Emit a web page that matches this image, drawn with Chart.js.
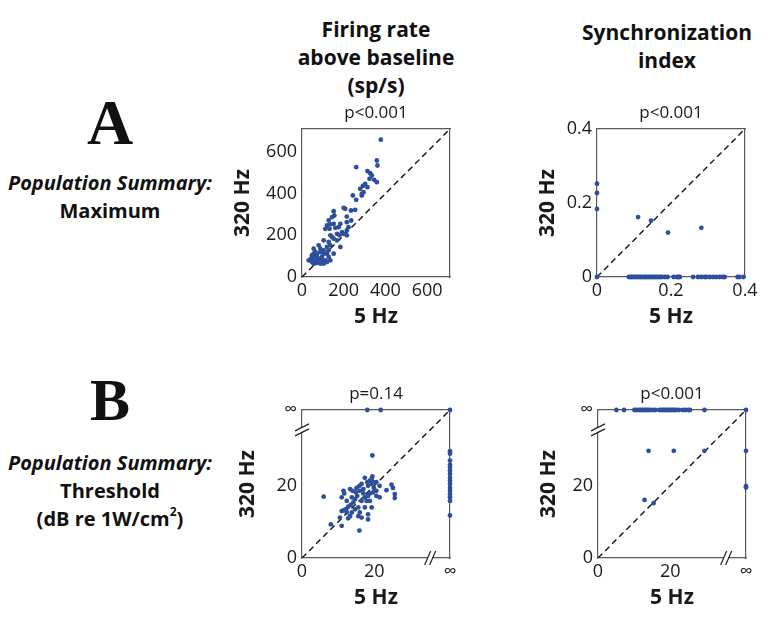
<!DOCTYPE html>
<html>
<head>
<meta charset="utf-8">
<script src="https://cdn.jsdelivr.net/npm/chart.js@4.4.1/dist/chart.umd.min.js"></script>
<style>
html,body{margin:0;padding:0;background:#fff;}
body{width:762px;height:617px;position:relative;overflow:hidden;font-family:"Open Sans",sans-serif;color:#111;}
.t{position:absolute;white-space:nowrap;text-align:center;transform:translateX(-50%);font-weight:700;font-size:21px;line-height:28px;}
.r{position:absolute;white-space:nowrap;text-align:center;transform:translateX(-50%);font-weight:700;font-size:20px;line-height:28px;}
.big{position:absolute;font-family:"Liberation Serif",serif;font-weight:700;transform:translateX(-50%);line-height:1;}
.it{font-style:italic;}
sup{font-size:12px;line-height:0;position:relative;top:-2px;}
canvas{position:absolute;}
</style>
</head>
<body>
<div class="t" style="left:376px;top:15px;">Firing rate<br>above baseline<br>(sp/s)</div>
<div class="t" style="left:667px;top:18px;">Synchronization<br>index</div>
<div class="big" style="left:110px;top:91px;font-size:64px;">A</div>
<div class="r" style="left:110px;top:169px;"><span class="it">Population Summary:</span><br>Maximum</div>
<div class="big" style="left:110px;top:370px;font-size:60px;">B</div>
<div class="r" style="left:110px;top:449px;"><span class="it">Population Summary:</span><br>Threshold<br>(dB re 1W/cm<sup>2</sup>)</div>
<script>
// ---------- data ----------
// A, left: maximum firing rate above baseline (sp/s)
const rateMax5Hz = [378,359,362,260,314,327,335,346,324,359,303,314,292,279,295,244,287,260,287,207,200,255,235,152,155,215,236,215,184,144,128,136,152,120,112,132,160,176,192,168,180,200,215,223,215,136,144,152,168,104,128,184,136,120,128,80,56,64,88,104,72,48,56,72,40,56,80,96,48,69,88,112,128,136,120,32,43,104,56,75,96,152,104,88,64,120,56];
const rateMax320Hz = [659,559,535,527,508,498,487,466,471,455,447,431,437,423,407,391,399,370,391,327,332,322,319,316,295,290,271,263,255,287,271,252,255,247,231,231,236,239,215,207,200,207,223,239,200,200,192,184,176,176,168,144,152,144,128,152,136,120,120,112,112,104,96,96,80,80,88,80,72,67,64,80,96,80,72,80,88,64,64,77,96,112,128,136,96,112,112];
// A, right: maximum synchronization index
const syncMax5Hz = [0,0,0,0,0.111,0.146,0.192,0.282,
  0.086,0.091,0.095,0.100,0.104,0.109,0.113,0.118,0.122,0.127,0.131,0.135,0.140,0.144,0.149,0.153,0.158,0.162,0.167,0.171,0.176,0.184,0.191,0.207,0.216,0.220,0.224,0.260,0.273,0.282,0.291,0.296,0.305,0.314,0.322,0.331,0.340,0.345,0.380,0.385,0.396];
const syncMax320Hz = [0.252,0.227,0.184,0,0.162,0.152,0.120,0.133,
  0,0,0,0,0,0,0,0,0,0,0,0,0,0,0,0,0,0,0,0,0,0,0,0,0,0,0,0,0,0,0,0,0,0,0,0,0,0,0,0,0];
// B, left: firing-rate threshold (dB re 1W/cm2); Infinity = no threshold
const rateThr5Hz = [6.0,8.0,11.0,10.5,11.5,11.7,11.0,13.3,14.0,15.1,15.9,16.5,17.4,18.1,18.8,19.5,19.5,19.3,19.9,20.6,21.5,23.4,24.8,25.2,25.7,25.7,21.5,20.6,19.7,18.8,18.3,17.4,17.0,16.0,15.3,14.7,14.2,13.5,12.8,12.2,11.5,12.4,13.3,12.8,13.8,14.7,15.6,16.0,15.6,16.5,15.9,17.4,18.3,18.3,19.3,16.5,17.9,18.8,13.8,12.4,11.0,19.7,19.3,20.6,18.3,17.0,14.9,
  18.1,21.8,Infinity,
  Infinity,Infinity,Infinity,Infinity,Infinity,Infinity,Infinity,Infinity,Infinity,Infinity,Infinity,Infinity,Infinity,Infinity,Infinity,Infinity];
const rateThr320Hz = [17.0,9.3,8.9,11.2,18.6,17.9,16.8,19.1,18.6,19.4,20.0,20.5,22.2,21.0,21.4,28.4,22.6,20.5,19.4,18.6,20.0,18.8,20.3,19.4,17.7,16.6,16.8,17.2,18.2,17.9,17.2,16.8,17.9,18.6,17.2,16.3,15.4,14.7,14.2,13.5,13.2,12.6,11.6,11.0,12.6,13.5,14.0,12.6,11.6,11.2,7.6,14.0,12.1,10.7,14.0,15.8,15.8,15.8,16.8,15.8,13.0,21.0,21.9,21.0,20.0,19.1,18.2,
  Infinity,Infinity,Infinity,
  29.6,28.9,27.0,25.8,25.2,24.2,23.3,22.2,21.4,20.5,19.4,18.6,17.7,16.8,15.8,11.8];
// B, right: synchronization threshold (dB re 1W/cm2)
const syncThr5Hz = [5.1,7.2,10.1,10.6,11.3,11.7,12.2,12.6,13.1,13.5,14.0,14.5,15.2,15.9,17.0,17.5,18.0,18.4,18.9,19.3,19.8,20.3,20.7,21.2,21.6,22.4,23.5,24.2,25.0,25.5,29.5,Infinity,
  Infinity,Infinity,Infinity,
  14.0,21.0,29.5,12.9,15.4];
const syncThr320Hz = [Infinity,Infinity,Infinity,Infinity,Infinity,Infinity,Infinity,Infinity,Infinity,Infinity,Infinity,Infinity,Infinity,Infinity,Infinity,Infinity,Infinity,Infinity,Infinity,Infinity,Infinity,Infinity,Infinity,Infinity,Infinity,Infinity,Infinity,Infinity,Infinity,Infinity,Infinity,Infinity,
  29.7,19.9,19.5,
  29.7,29.7,29.7,16.1,15.2];

const pValues = ['p<0.001','p<0.001','p=0.14','p<0.001'];
const rateTicks = [0,200,400,600];
const syncTicks = [0,0.2,0.4];
const thrTicks = [0,20,Infinity];
const xAxisLabel = '5 Hz';
const yAxisLabel = '320 Hz';

// ---------- drawing ----------
Chart.defaults.font.family = '"Open Sans", sans-serif';
Chart.defaults.color = '#1a1a1a';
const DOT = '#2d4f9e';
const BOX = '#5a5a5a';
const SIZE = 148;

const breakPlugin = {
  id: 'brk',
  afterDraw(chart, args, o) {
    if (o.at == null) return;
    const ctx = chart.ctx, a = chart.chartArea;
    const yb = chart.scales.y.getPixelForValue(o.at);
    const xb = chart.scales.x.getPixelForValue(o.at);
    ctx.save();
    ctx.fillStyle = '#fff';
    ctx.fillRect(a.left - 2, yb - 2.5, 4, 5);
    ctx.fillRect(xb - 2.5, a.bottom - 2, 5, 4);
    ctx.strokeStyle = '#222';
    ctx.lineWidth = 1.2;
    ctx.beginPath();
    for (const d of [-2.5, 2.5]) {
      ctx.moveTo(a.left - 7, yb + d + 3.5); ctx.lineTo(a.left + 7, yb + d - 3.5);
      ctx.moveTo(xb + d - 3, a.bottom + 7); ctx.lineTo(xb + d + 3, a.bottom - 7);
    }
    ctx.stroke();
    ctx.restore();
  }
};

function panel(p) {
  const cv = document.createElement('canvas');
  cv.width = 80 + SIZE + 16; cv.height = 35 + SIZE + 60;
  cv.style.left = (p.left - 80) + 'px';
  cv.style.top = (p.top - 35) + 'px';
  document.body.appendChild(cv);
  const fix = v => (v === Infinity ? p.max : v);
  const pts = p.xs.map((x, i) => ({x: fix(x), y: fix(p.ys[i])}));
  const tickVals = p.ticks.map(fix);
  const fmt = v => (p.inf && v === p.max ? '\u221E' : p.fmt(v));
  const setTicks = s => { s.ticks = tickVals.map(v => ({value: v})); };
  const gridOff = {drawOnChartArea: false, drawTicks: false};
  const border = {color: BOX, width: 1.2};
  new Chart(cv, {
    type: 'scatter',
    data: {datasets: [
      {data: pts, backgroundColor: DOT, borderWidth: 0, pointRadius: 2.4, clip: false, order: 0},
      {type: 'line', showLine: true, data: [{x: p.min, y: p.min}, {x: p.max, y: p.max}],
       borderColor: '#111', borderWidth: 1.4, borderDash: [6, 4], pointRadius: 0, order: 1}
    ]},
    options: {
      responsive: false, animation: false, devicePixelRatio: 1,
      layout: {padding: {left: 0, right: 16, top: 0, bottom: 0}},
      plugins: {legend: {display: false}, tooltip: {enabled: false}, brk: {at: p.breakAt}},
      scales: {
        x: {type: 'linear', position: 'bottom', min: p.min, max: p.max,
            afterBuildTicks: setTicks, afterFit: s => { s.height = 60; },
            grid: gridOff, border,
            ticks: {autoSkip: false, maxRotation: 0, padding: 3, font: {size: 18}, callback: fmt},
            title: {display: true, text: xAxisLabel, font: {size: 21, weight: 'bold'}, padding: {top: 0, bottom: 7}}},
        y: {type: 'linear', position: 'left', min: p.min, max: p.max,
            afterBuildTicks: setTicks, afterFit: s => { s.width = 80; },
            grid: gridOff, border,
            ticks: {autoSkip: false, padding: 5, font: {size: 18}, callback: fmt},
            title: {display: true, text: yAxisLabel, font: {size: 21, weight: 'bold'}, padding: {top: p.yTitlePad, bottom: 0}}},
        x2: {type: 'linear', position: 'top', min: p.min, max: p.max,
             afterFit: s => { s.height = 35; }, grid: gridOff, border, ticks: {display: false},
             title: {display: true, text: p.pText, font: {size: 17}, padding: {top: 9, bottom: 0}}},
        y2: {type: 'linear', position: 'right', min: p.min, max: p.max,
             afterFit: s => { s.width = 0; }, grid: gridOff, border, ticks: {display: false}}
      }
    },
    plugins: [breakPlugin]
  });
}

panel({left: 302, top: 129, min: 0, max: 710, xs: rateMax5Hz, ys: rateMax320Hz,
       ticks: rateTicks, fmt: v => String(v), pText: pValues[0], yTitlePad: 8});
panel({left: 597, top: 129, min: 0, max: 0.4, xs: syncMax5Hz, ys: syncMax320Hz,
       ticks: syncTicks, fmt: v => (v === 0 ? '0' : v.toFixed(1)), pText: pValues[1], yTitlePad: 18});
panel({left: 302, top: 410, min: 0, max: 41, xs: rateThr5Hz, ys: rateThr320Hz, inf: true, breakAt: 35.5,
       ticks: thrTicks, fmt: v => String(v), pText: pValues[2], yTitlePad: 13});
panel({left: 598, top: 410, min: 0, max: 41, xs: syncThr5Hz, ys: syncThr320Hz, inf: true, breakAt: 35.5,
       ticks: thrTicks, fmt: v => String(v), pText: pValues[3], yTitlePad: 18});
</script>
</body>
</html>
